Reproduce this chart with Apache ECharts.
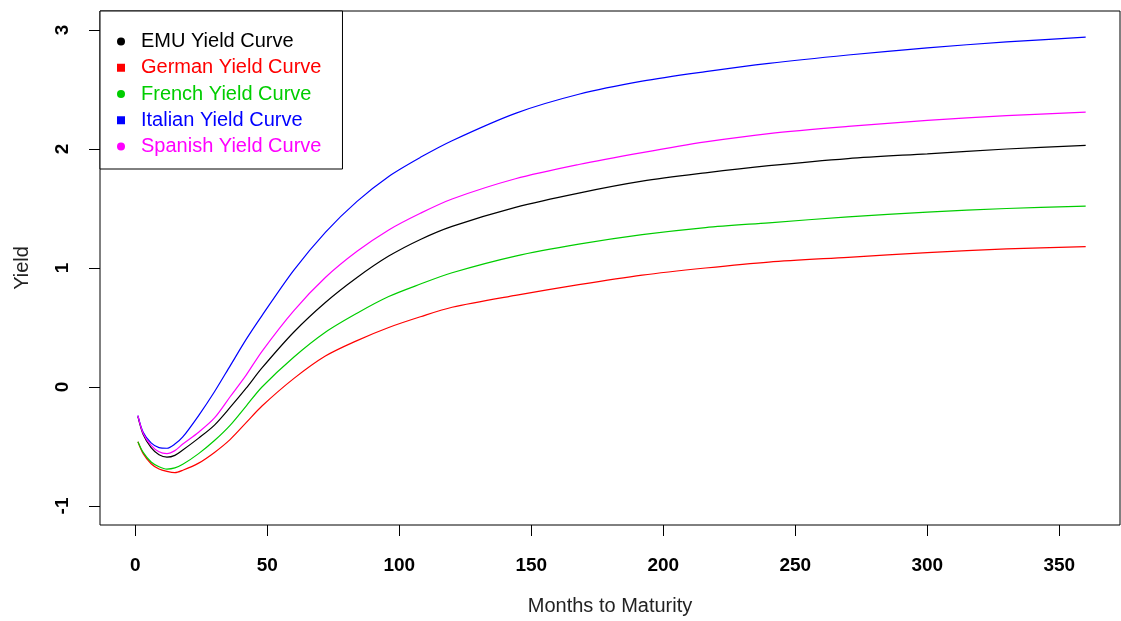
<!DOCTYPE html>
<html>
<head>
<meta charset="utf-8">
<script src="https://cdn.jsdelivr.net/npm/echarts@6/dist/echarts.min.js"></script>
<style>
  html, body { margin: 0; padding: 0; background: #fff; }
  #chart { width: 1121px; height: 621px; }
</style>
</head>
<body>
<div id="chart"></div>
<script>
// maturities in months
const months = [1, 3, 6, 9, 12, 15, 18, 24, 30, 36, 42, 48, 60, 72, 84, 96, 108, 120, 144, 168, 192, 216, 240, 270, 300, 330, 360];

// yields
const emu     = [-0.25, -0.40, -0.51, -0.57, -0.59, -0.575, -0.53, -0.43, -0.32, -0.17, -0.01, 0.16, 0.46, 0.71, 0.92, 1.10, 1.24, 1.35, 1.51, 1.63, 1.73, 1.80, 1.86, 1.92, 1.96, 2.00, 2.03];
const german  = [-0.46, -0.56, -0.645, -0.69, -0.71, -0.72, -0.70, -0.64, -0.55, -0.44, -0.30, -0.16, 0.07, 0.26, 0.39, 0.50, 0.59, 0.67, 0.77, 0.86, 0.94, 1.00, 1.05, 1.09, 1.13, 1.16, 1.18];
const french  = [-0.46, -0.55, -0.63, -0.67, -0.69, -0.68, -0.65, -0.56, -0.45, -0.32, -0.16, 0.00, 0.25, 0.46, 0.62, 0.76, 0.865, 0.96, 1.10, 1.20, 1.28, 1.34, 1.38, 1.43, 1.47, 1.50, 1.52];
const italian = [-0.24, -0.38, -0.47, -0.51, -0.515, -0.48, -0.42, -0.24, -0.04, 0.18, 0.40, 0.60, 0.98, 1.30, 1.56, 1.77, 1.93, 2.07, 2.30, 2.46, 2.57, 2.65, 2.72, 2.79, 2.85, 2.90, 2.94];
const spanish = [-0.24, -0.39, -0.49, -0.545, -0.56, -0.535, -0.48, -0.38, -0.26, -0.08, 0.10, 0.30, 0.64, 0.92, 1.14, 1.32, 1.46, 1.58, 1.75, 1.87, 1.97, 2.06, 2.13, 2.19, 2.24, 2.28, 2.31];

const names = ["EMU Yield Curve", "German Yield Curve", "French Yield Curve", "Italian Yield Curve", "Spanish Yield Curve"];
const xTicks = [0, 50, 100, 150, 200, 250, 300, 350];
const yTicks = [-1, 0, 1, 2, 3];

const colors = ["#000000", "#FF0000", "#00CD00", "#0000FF", "#FF00FF"];
const icons = ["circle", "rect", "circle", "rect", "circle"];
const font = "'Liberation Sans', Arial, sans-serif";

const curves = [emu, german, french, italian, spanish];

const chart = echarts.init(document.getElementById("chart"));

const option = {
  animation: false,
  backgroundColor: "#fff",
  grid: {
    left: 100,
    top: 11,
    width: 1020,
    height: 514,
    show: true,
    borderColor: "#000",
    borderWidth: 1
  },
  legend: {
    orient: "vertical",
    left: 100,
    top: 11,
    padding: [20, 21, 12, 17],
    itemWidth: 8,
    itemHeight: 8,
    itemGap: 5.25,
    borderColor: "#000",
    borderWidth: 1,
    backgroundColor: "#fff",
    selectedMode: false,
    data: names.map((n, i) => ({
      name: n,
      icon: icons[i],
      itemStyle: { color: colors[i] },
      textStyle: { color: colors[i], fontSize: 20, lineHeight: 21, fontFamily: font, padding: [0, 0, 0, 11] }
    }))
  },
  xAxis: {
    type: "value",
    min: -13.36,
    max: 373,
    name: "Months to Maturity",
    nameLocation: "middle",
    nameGap: 71,
    nameTextStyle: { fontSize: 20, color: "#222", fontFamily: font },
    axisLine: { show: false, onZero: false },
    splitLine: { show: false },
    axisTick: { show: true, length: 11, lineStyle: { color: "#000" }, customValues: xTicks },
    axisLabel: { fontSize: 19, fontWeight: "bold", color: "#000", fontFamily: font, margin: 31, customValues: xTicks }
  },
  yAxis: {
    type: "value",
    min: -1.16,
    max: 3.16,
    name: "Yield",
    nameLocation: "middle",
    nameGap: 68,
    nameRotate: 90,
    nameTextStyle: { fontSize: 20, color: "#222", fontFamily: font },
    axisLine: { show: false, onZero: false },
    splitLine: { show: false },
    axisTick: { show: true, length: 11, lineStyle: { color: "#000" }, customValues: yTicks },
    axisLabel: { fontSize: 19, fontWeight: "bold", color: "#000", fontFamily: font, margin: 28, rotate: 90, customValues: yTicks }
  },
  series: names.map((n, i) => ({
    name: n,
    type: "line",
    data: months.map((m, j) => [m, curves[i][j]]),
    showSymbol: false,
    smooth: 0.3,
    color: colors[i],
    lineStyle: { width: 1.2, color: colors[i] }
  }))
};

chart.setOption(option);
</script>
</body>
</html>
